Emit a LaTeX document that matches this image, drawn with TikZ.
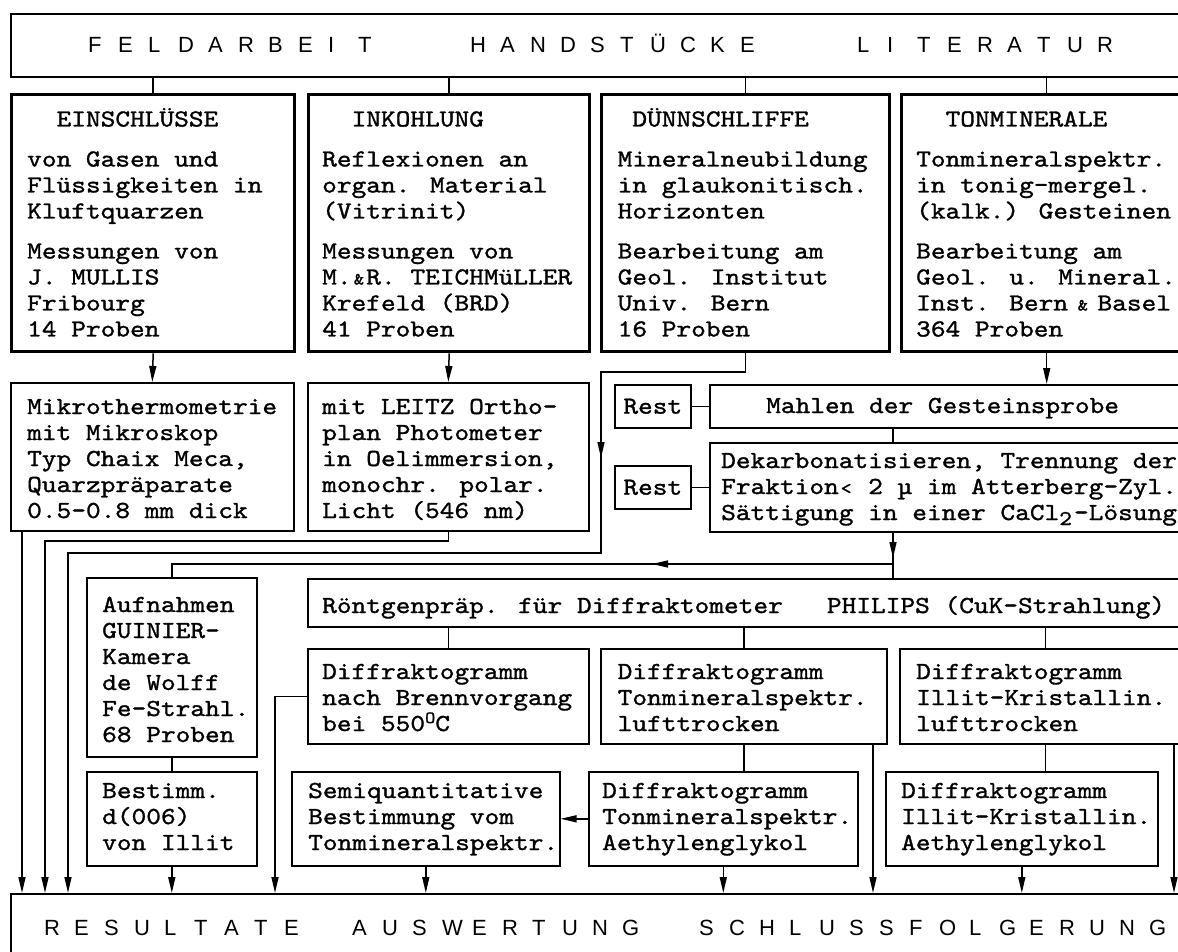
\documentclass[tikz,border=0pt]{standalone}
\usepackage{fontspec}
\usetikzlibrary{arrows.meta,calc}
\newfontfamily\twfam[Extension=.otf,FakeBold=1.2,FakeStretch=1.143]{lmmono10-regular}
\newfontfamily\hdfam{Liberation Sans}
\newcommand\bodyfont{\twfam\fontsize{24.5}{26}\selectfont}
\newcommand\hdfont{\hdfam\fontsize{22}{22}\selectfont}
\newlength\ch
\settowidth\ch{\bodyfont x}
\newcommand\blk[1]{\vtop{\bodyfont\baselineskip=26pt\lineskiplimit=-100pt\lineskip=0pt\halign{##\hfil\cr#1\crcr}}}
\newcommand\gap{\noalign{\vskip14pt}}
\newcommand\amp{\makebox[\ch]{\fontsize{17}{17}\selectfont\&}}
\newcommand\ampw{\makebox[2\ch]{\fontsize{17}{17}\selectfont\&}}
\newcommand\lt{\makebox[\ch]{\fontsize{18}{18}\selectfont<}}
\newcommand\subtwo{\makebox[\ch][l]{\raisebox{-5pt}{\fontsize{21}{21}\selectfont 2}}}
\newcommand\degO{\raisebox{8pt}{\fontsize{17}{17}\selectfont O}}
\makeatletter
\newcommand\spw[1]{\@tfor\sp@c:=#1\do{\makebox[30pt][l]{\sp@c}}}
\makeatother
\begin{document}
\begin{tikzpicture}[x=1pt,y=-1pt,
  box/.style={draw, line width=1.6pt, inner sep=0pt, anchor=north west},
  tbox/.style={box, line width=3.4pt},
  txt/.style={anchor=base west, inner sep=0pt},
  conn/.style={line width=1.5pt},
  arr/.style={-{Triangle[length=16pt,width=7pt]}}]
\fill[white] (0,0) rectangle (1178,952);
\useasboundingbox (0,0) rectangle (1178,952);
% boxes
\node[box, minimum width=1180pt, minimum height=63pt] (top) at (10,13) {};
\node[tbox, minimum width=283pt, minimum height=257pt] (b1) at (10,93) {};
\node[tbox, minimum width=281pt, minimum height=257pt] (b2) at (307,93) {};
\node[tbox, minimum width=288pt, minimum height=257pt] (b3) at (600,93) {};
\node[tbox, minimum width=290pt, minimum height=257pt] (b4) at (900,93) {};
\node[box, minimum width=283pt, minimum height=148pt] (m1) at (10,382) {};
\node[box, minimum width=281pt, minimum height=148pt] (m2) at (307,382) {};
\node[box, minimum width=76pt, minimum height=43pt] (r1) at (614,384) {\bodyfont Rest};
\node[box, minimum width=481pt, minimum height=43pt] (mah) at (709,384) {};
\node[box, minimum width=76pt, minimum height=43pt] (r2) at (614,465) {\bodyfont Rest};
\node[box, minimum width=481pt, minimum height=89pt] (dek) at (709,442) {};
\node[box, minimum width=883pt, minimum height=48pt] (ron) at (307,578) {};
\node[box, minimum width=170pt, minimum height=179pt] (auf) at (86,577) {};
\node[box, minimum width=170pt, minimum height=94pt] (bes) at (86,771) {};
\node[box, minimum width=281pt, minimum height=95pt] (d1) at (307,648) {};
\node[box, minimum width=286pt, minimum height=95pt] (d2) at (600,648) {};
\node[box, minimum width=291pt, minimum height=95pt] (d3) at (899,648) {};
\node[box, minimum width=268pt, minimum height=94pt] (sq) at (291,771) {};
\node[box, minimum width=269pt, minimum height=94pt] (e1) at (588,771) {};
\node[box, minimum width=272pt, minimum height=94pt] (e2) at (885,771) {};
\node[box, minimum width=1180pt, minimum height=90pt] (res) at (10,893) {};
% texts
\node[txt] (h1) at (88,53) {\hdfont\spw{FELDARBEIT}};
\node[txt] (h2) at (470,53) {\hdfont\spw{HANDSTÜCKE}};
\node[txt] (h3) at (857,53) {\hdfont\spw{LITERATUR}};
\node[txt] (f1) at (44,935) {\hdfont\spw{RESULTATE}};
\node[txt] (f2) at (352,935) {\hdfont\spw{AUSWERTUNG}};
\node[txt] (f3) at (699,935) {\hdfont\spw{SCHLUSSFOLGERUNG}};
\node[txt] (tb1) at (27,126.5) {\blk{\hspace*{2\ch}EINSCHLÜSSE\cr\gap von Gasen und\cr Flüssigkeiten in\cr Kluftquarzen\cr\gap Messungen von\cr J. MULLIS\cr Fribourg\cr 14 Proben}};
\node[txt] (tb2) at (322,126.5) {\blk{\hspace*{2\ch}INKOHLUNG\cr\gap Reflexionen an\cr organ. Material\cr (Vitrinit)\cr\gap Messungen von\cr M.\amp R. TEICHMüLLER\cr Krefeld (BRD)\cr 41 Proben}};
\node[txt] (tb3) at (617.5,126.5) {\blk{\hspace*{\ch}DÜNNSCHLIFFE\cr\gap Mineralneubildung\cr in glaukonitisch.\cr Horizonten\cr\gap Bearbeitung am\cr Geol. Institut\cr Univ. Bern\cr 16 Proben}};
\node[txt] (tb4) at (916,126.5) {\blk{\hspace*{2\ch}TONMINERALE\cr\gap Tonmineralspektr.\cr in tonig-mergel.\cr (kalk.) Gesteinen\cr\gap Bearbeitung am\cr Geol. u. Mineral.\cr Inst. Bern\ampw Basel\cr 364 Proben}};
\node[txt] (tm1) at (27,414) {\blk{Mikrothermometrie\cr mit Mikroskop\cr Typ Chaix Meca,\cr Quarzpräparate\cr 0.5-0.8 mm dick}};
\node[txt] (tm2) at (322,414) {\blk{mit LEITZ Ortho-\cr plan Photometer\cr in Oelimmersion,\cr monochr. polar.\cr Licht (546 nm)}};
\node[txt] (tmah) at (766,413) {\blk{Mahlen der Gesteinsprobe}};
\node[txt] (tdek) at (721,468) {\blk{Dekarbonatisieren, Trennung der\cr Fraktion\lt{} 2 µ im Atterberg-Zyl.\cr Sättigung in einer CaCl\subtwo-Lösung}};
\node[txt] (tron) at (322,613) {\blk{Röntgenpräp. für Diffraktometer\hspace*{3\ch}PHILIPS (CuK-Strahlung)}};
\node[txt] (tauf) at (102,612) {\blk{Aufnahmen\cr GUINIER-\cr Kamera\cr de Wolff\cr Fe-Strahl.\cr 68 Proben}};
\node[txt] (tbes) at (102,798) {\blk{Bestimm.\cr d(006)\cr von Illit}};
\node[txt] (td1) at (322,679) {\blk{Diffraktogramm\cr nach Brennvorgang\cr bei 550\degO C}};
\node[txt] (td2) at (617.5,679) {\blk{Diffraktogramm\cr Tonmineralspektr.\cr lufttrocken}};
\node[txt] (td3) at (916,679) {\blk{Diffraktogramm\cr Illit-Kristallin.\cr lufttrocken}};
\node[txt] (tsq) at (308,798) {\blk{Semiquantitative\cr Bestimmung vom\cr Tonmineralspektr.}};
\node[txt] (te1) at (602,798) {\blk{Diffraktogramm\cr Tonmineralspektr.\cr Aethylenglykol}};
\node[txt] (te2) at (901,798) {\blk{Diffraktogramm\cr Illit-Kristallin.\cr Aethylenglykol}};
% coordinates
\coordinate (k2) at (45,541);
\coordinate (k3a) at (601,372);
\coordinate (k3m) at (601,458);
\coordinate (k3b) at (68,553);
\coordinate (k4) at (893,564);
\coordinate (k4m) at (893,558);
\coordinate (k4l) at (652,564);
\coordinate (k1) at (22,530);
\coordinate (k5) at (275,893);
\coordinate (k6) at (873,743);
\coordinate (k7) at (1174,743);
\coordinate (k8) at (744,743);
% connectors
\foreach \b in {b1,b2,b3,b4} \draw[conn] (\b.north |- top.south) -- (\b.north);
\draw[conn,arr] (b1.south) -- (m1.north);
\draw[conn,arr] (b2.south) -- (m2.north);
\draw[conn,arr] (b4.south) -- (b4.south |- mah.north);
\draw[conn] (r1.east) -- (mah.west);
\draw[conn] (r2.east) -- (dek.west);
\draw[conn] (k4 |- mah.south) -- (k4 |- dek.north);
\draw[conn] (k4 |- dek.south) -- (k4 |- ron.north);
\draw[conn,arr] (k4 |- dek.south) -- (k4m);
\draw[conn] (k4) -| (auf.north);
\draw[conn,arr] (k4) -- (k4l);
\draw[conn,arr] (k1) -- (k1 |- res.north);
\draw[conn,arr] (m2.south) |- (k2) -- (k2 |- res.north);
\draw[conn,arr] (b3.south) |- (k3a) |- (k3b) -- (k3b |- res.north);
\draw[conn,arr] (k3a) -- (k3m);
\foreach \d in {d1,d2,d3} \draw[conn] (\d.north |- ron.south) -- (\d.north);
\draw[conn] (auf.south) -- (bes.north);
\draw[conn,arr] (bes.south) -- (bes.south |- res.north);
\draw[conn,arr] (d1.west) -| (k5);
\draw[conn] (k8) -- (k8 |- e1.north);
\draw[conn] (d3.south) -- (d3.south |- e2.north);
\draw[conn,arr] (k6) -- (k6 |- res.north);
\draw[conn,arr] (k7) -- (k7 |- res.north);
\draw[conn,arr] (e1.west) -- (sq.east);
\draw[conn,arr] (sq.south) -- (sq.south |- res.north);
\draw[conn,arr] (e1.south) -- (e1.south |- res.north);
\draw[conn,arr] (e2.south) -- (e2.south |- res.north);
\end{tikzpicture}
\end{document}
